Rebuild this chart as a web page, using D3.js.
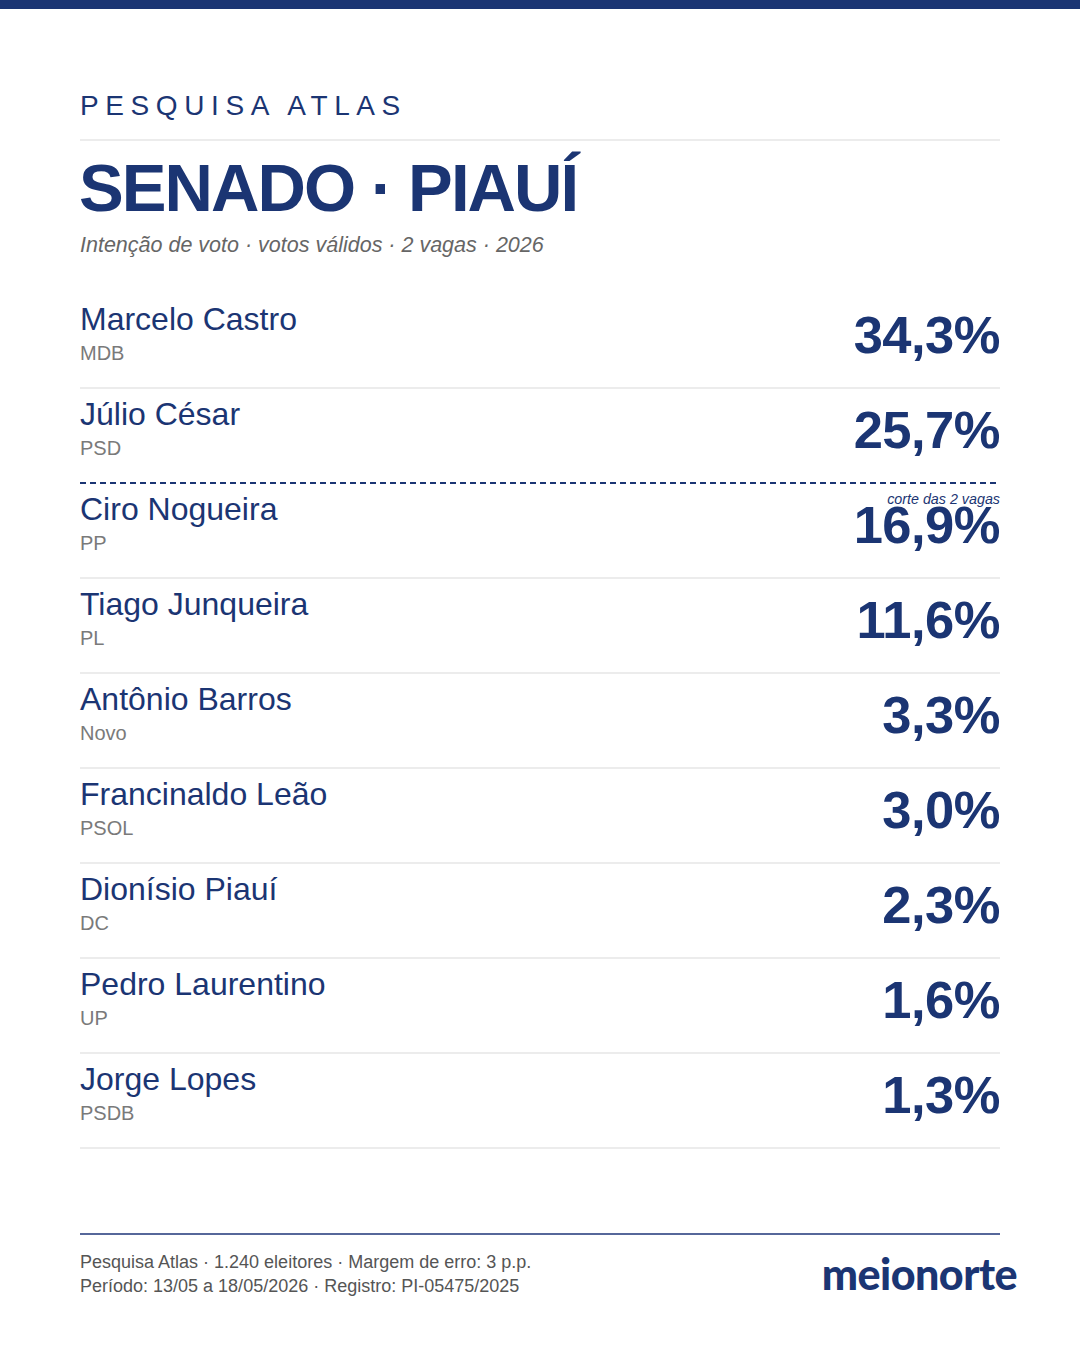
<!DOCTYPE html>
<html>
<head>
<meta charset="utf-8">
<script src="https://cdn.jsdelivr.net/npm/d3@7"></script>
<style>
  body { margin: 0; background: #fff; }
  svg { display: block; font-family: "Liberation Sans", Arial, sans-serif; }
</style>
</head>
<body>
<div id="chart"></div>
<script>
// dados da pesquisa
const candidatos = ["Marcelo Castro", "Júlio César", "Ciro Nogueira", "Tiago Junqueira", "Antônio Barros",
    "Francinaldo Leão", "Dionísio Piauí", "Pedro Laurentino", "Jorge Lopes"];
const partidos = ["MDB", "PSD", "PP", "PL", "Novo", "PSOL", "DC", "UP", "PSDB"];
const votos = [34.3, 25.7, 16.9, 11.6, 3.3, 3.0, 2.3, 1.6, 1.3];
const vagas = 2;

const data = candidatos.map((c, i) => ({ nome: c, partido: partidos[i], valor: votos[i] }));

const width = 1080, height = 1350;
const navy = "#1b3573";
const left = 80, right = 1000;

const svg = d3.select("#chart").append("svg")
    .attr("width", width)
    .attr("height", height);

svg.append("rect").attr("x", 0).attr("y", 0).attr("width", width).attr("height", 9).attr("fill", navy);

svg.append("text")
    .attr("x", left).attr("y", 115)
    .attr("fill", navy)
    .attr("font-size", 28)
    .attr("letter-spacing", 6.6)
    .text("PESQUISA ATLAS");

svg.append("line")
    .attr("x1", left).attr("x2", right).attr("y1", 140).attr("y2", 140)
    .attr("stroke", "#ececec").attr("stroke-width", 2);

svg.append("text")
    .attr("x", left - 1).attr("y", 211)
    .attr("fill", navy)
    .attr("font-size", 67)
    .attr("font-weight", "bold")
    .attr("letter-spacing", -1.9)
    .text("SENADO · PIAUÍ");

svg.append("text")
    .attr("x", left).attr("y", 252)
    .attr("fill", "#666")
    .attr("font-size", 21.5)
    .attr("font-style", "italic")
    .text("Intenção de voto · votos válidos · 2 vagas · 2026");

const y = d3.scaleBand()
    .domain(data.map(d => d.nome))
    .range([293, 293 + 95 * data.length]);

const fmt = v => d3.format(".1f")(v).replace(".", ",") + "%";

const rows = svg.selectAll(".row")
    .data(data)
    .enter().append("g")
    .attr("class", "row")
    .attr("transform", d => `translate(0, ${y(d.nome)})`);

rows.append("text")
    .attr("x", left).attr("y", 37)
    .attr("fill", navy)
    .attr("font-size", 32)
    .text(d => d.nome);

rows.append("text")
    .attr("x", left).attr("y", 67)
    .attr("fill", "#7a7a7a")
    .attr("font-size", 20)
    .text(d => d.partido);

rows.append("text")
    .attr("x", right).attr("y", 60)
    .attr("text-anchor", "end")
    .attr("fill", navy)
    .attr("font-size", 52.5)
    .attr("font-weight", "bold")
    .attr("letter-spacing", -0.5)
    .text(d => fmt(d.valor));

rows.filter((d, i) => i !== vagas - 1)
    .append("line")
    .attr("x1", left).attr("x2", right)
    .attr("y1", y.bandwidth()).attr("y2", y.bandwidth())
    .attr("stroke", "#ececec").attr("stroke-width", 2);

// linha de corte
const corteY = y(candidatos[vagas - 1]) + y.bandwidth();
svg.append("line")
    .attr("x1", left).attr("x2", 997)
    .attr("y1", corteY).attr("y2", corteY)
    .attr("stroke", navy).attr("stroke-width", 2)
    .attr("stroke-dasharray", "6,4");

svg.append("text")
    .attr("x", right).attr("y", corteY + 21)
    .attr("text-anchor", "end")
    .attr("fill", navy)
    .attr("font-size", 14.3)
    .attr("font-style", "italic")
    .text("corte das 2 vagas");

// rodapé
svg.append("line")
    .attr("x1", left).attr("x2", right).attr("y1", 1234).attr("y2", 1234)
    .attr("stroke", "#56679a").attr("stroke-width", 2);

svg.append("text")
    .attr("x", left).attr("y", 1268)
    .attr("fill", "#555")
    .attr("font-size", 18)
    .text("Pesquisa Atlas · 1.240 eleitores · Margem de erro: 3 p.p.");

svg.append("text")
    .attr("x", left).attr("y", 1292)
    .attr("fill", "#555")
    .attr("font-size", 18)
    .text("Período: 13/05 a 18/05/2026 · Registro: PI-05475/2025");

svg.append("text")
    .attr("x", 1017).attr("y", 1290)
    .attr("text-anchor", "end")
    .attr("fill", navy)
    .attr("font-family", "Lato, 'Noto Sans', sans-serif")
    .attr("font-size", 43)
    .attr("font-weight", 900)
    .attr("letter-spacing", -0.5)
    .text("meionorte");
</script>
</body>
</html>
